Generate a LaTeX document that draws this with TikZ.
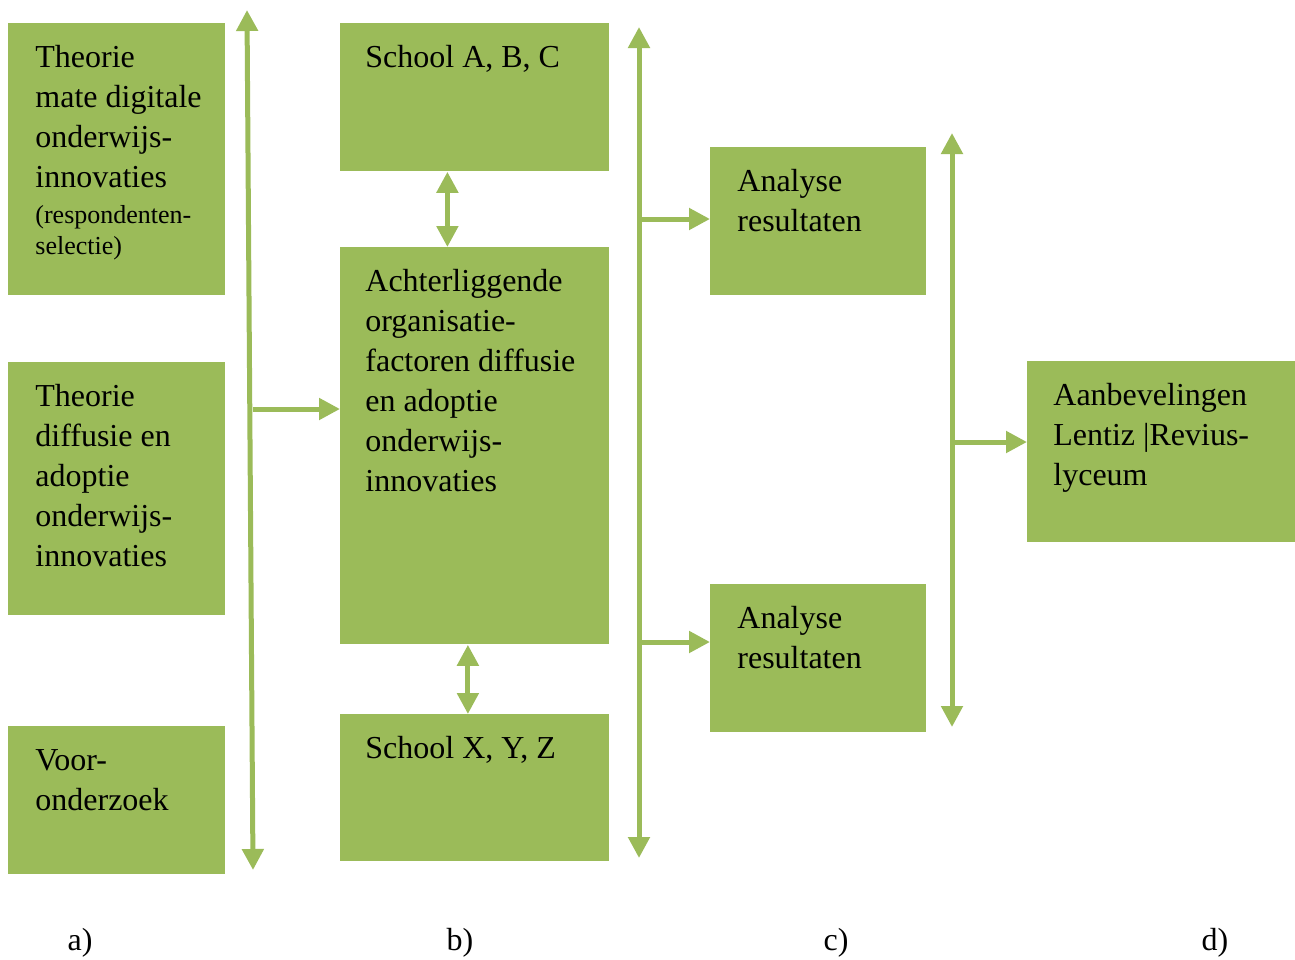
\documentclass[tikz,border=0pt]{standalone}
\usepackage{fontspec}
\setmainfont{Liberation Serif}
\usetikzlibrary{arrows.meta,positioning}
\definecolor{olijf}{HTML}{9BBB59}
\newcommand\groot{\fontsize{16}{20}\selectfont}
\newcommand\klein{\fontsize{13}{15.5}\selectfont}
\tikzset{
  blok/.style={fill=olijf, inner sep=0, anchor=north west},
  tekst/.style={font=\groot, text width=125pt, align=flush left, anchor=base west, inner sep=0},
  pijl/.style={draw=olijf, line width=2.5pt, >={Triangle[width=10.5pt,length=10.5pt]}},
  letter/.style={font=\groot, anchor=base, inner sep=0}
}
\begin{document}
\begin{tikzpicture}[x=0.5pt,y=-0.5pt]
   \useasboundingbox (0,0) rectangle (1295,959);
   % kolom a
   \node[blok, minimum width=108.5pt, minimum height=136pt] (theoA) at (8,23) {};
   \node[blok, minimum width=108.5pt, minimum height=126.5pt] (theoB) at (8,362) {};
   \node[blok, minimum width=108.5pt, minimum height=74pt] (voor) at (8,726) {};
   \node[tekst] (theoAt) at ([shift={(27,44)}]theoA.north west)
     {Theorie\\mate digitale\\onderwijs-\\innovaties\\[-2pt]{\klein (respondenten-}\\[-4.5pt]{\klein selectie)}};
   \node[tekst] (theoBt) at ([shift={(27,44)}]theoB.north west)
     {Theorie\\diffusie en\\adoptie\\onderwijs-\\innovaties};
   \node[tekst] (voort) at ([shift={(27,44)}]voor.north west) {Voor-\\onderzoek};
   % kolom b
   \node[blok, minimum width=134.5pt, minimum height=74pt] (schoolA) at (340,23) {};
   \node[blok, minimum width=134.5pt, minimum height=198.5pt] (achter) at (340,247) {};
   \node[blok, minimum width=134.5pt, minimum height=73.5pt] (schoolX) at (340,714) {};
   \node[tekst] (schoolAt) at ([shift={(25,44)}]schoolA.north west) {School A, B, C};
   \node[tekst] (achtert) at ([shift={(25,44)}]achter.north west)
     {Achterliggende\\organisatie-\\factoren diffusie\\en adoptie\\onderwijs-\\innovaties};
   \node[tekst] (schoolXt) at ([shift={(25,44)}]schoolX.north west) {School X, Y, Z};
   % kolom c
   \node[blok, minimum width=108pt, minimum height=74pt] (anaA) at (710,147) {};
   \node[blok, minimum width=108pt, minimum height=74pt] (anaX) at (710,584) {};
   \node[tekst] (anaAt) at ([shift={(27,44)}]anaA.north west) {Analyse\\resultaten};
   \node[tekst] (anaXt) at ([shift={(27,44)}]anaX.north west) {Analyse\\resultaten};
   % kolom d
   \node[blok, minimum width=134pt, minimum height=90.5pt] (advies) at (1027,361) {};
   \node[tekst] (adviest) at ([shift={(26,44)}]advies.north west)
     {Aanbevelingen\\Lentiz |Revius-\\lyceum};
   % pijlen
   \coordinate (lboven) at (247,10);
   \coordinate (londer) at (253,870);
   \coordinate (lmidden) at (253,409);
   \draw[pijl,<->] (lboven) -- (londer);
   \draw[pijl,->] (lmidden) -- (lmidden -| achter.west);
   \draw[pijl,<->] ([xshift=-13.75pt]schoolA.south) -- ([xshift=-13.75pt]achter.north);
   \draw[pijl,<->] ([xshift=-3.5pt]achter.south) -- ([xshift=-3.5pt]schoolX.north);
   \coordinate (cboven) at (639,27);
   \coordinate (conder) at (639,858);
   \coordinate (c1) at (639,219);
   \coordinate (c2) at (639,642);
   \draw[pijl,<->] (cboven) -- (conder);
   \draw[pijl,->] (c1) -- (c1 -| anaA.west);
   \draw[pijl,->] (c2) -- (c2 -| anaX.west);
   \coordinate (dboven) at (952,133);
   \coordinate (donder) at (952,727);
   \coordinate (d1) at (952,442);
   \draw[pijl,<->] (dboven) -- (donder);
   \draw[pijl,->] (d1) -- (d1 -| advies.west);
   % letters
   \node[letter] (la) at (80,950) {a)};
   \node[letter] (lb) at (460,950) {b)};
   \node[letter] (lc) at (836,950) {c)};
   \node[letter] (ld) at (1215,950) {d)};
\end{tikzpicture}
\end{document}
